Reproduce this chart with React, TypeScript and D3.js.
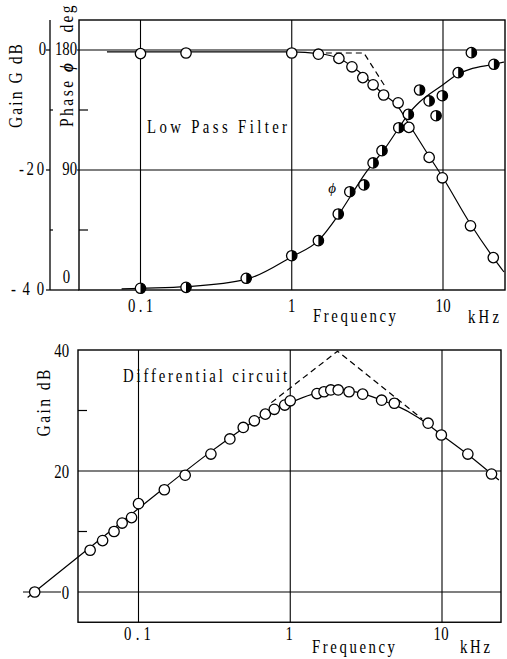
import React from 'react';
import * as d3 from 'd3';

// ---------- Top chart: Low Pass Filter ----------
const lpGainFreq = [0.1, 0.2, 1, 1.5, 2.05, 2.5, 2.95, 3.45, 4.05, 5.05, 5.95, 8.1, 9.9, 15.2, 21.5];
const lpGainDb = [-0.6, -0.5, -0.5, -0.7, -1.4, -2.8, -4.6, -5.8, -7.5, -8.8, -12.9, -17.9, -21.3, -29.3, -34.6];
const lpPhaseFreq = [0.1, 0.2, 0.5, 1, 1.5, 2.03, 2.42, 3.0, 3.45, 3.95, 5.1, 5.9, 7.0, 8.1, 9.0, 9.9, 12.6, 15.4, 21.7];
const lpPhaseDeg = [1.3, 2, 8.8, 25.7, 37, 57, 73.7, 78.8, 95.3, 104.5, 121.7, 131.7, 150, 141.8, 130.7, 145.7, 163, 178, 169.3];
const lpGainCurveFreq = [0.06, 1, 1.5, 2, 2.5, 3, 3.5, 4, 5, 6, 8, 10, 15, 21.5, 25.3];
const lpGainCurveDb = [-0.3, -0.3, -0.6, -1.3, -2.7, -4.3, -5.9, -7.3, -9.3, -12.5, -17.5, -21.3, -28.8, -34.6, -37];
const lpPhaseCurveFreq = [0.075, 0.1, 0.2, 0.5, 1, 1.5, 2, 2.5, 3, 3.5, 4, 5, 6, 7, 10, 12.6, 15, 21.7, 25.3];
const lpPhaseCurveDeg = [0.8, 1.3, 2.5, 8, 25, 37, 55, 72, 86, 96, 104, 120, 133, 141, 154, 162, 165.5, 169.3, 171];
const lpAsymFreq = [1.68, 3.0, 4.17];
const lpAsymDb = [-0.5, -0.5, -6.2];

const lpGainTicks = [0, -20, -40];
const lpGainTickLabels = ['0', '-20', '-40'];
const lpGainMinor = [-10, -30];
const lpPhaseTicks = [180, 90, 0];
const lpPhaseTickLabels = ['180', '90', '0'];

// ---------- Bottom chart: Differential circuit ----------
const diffFreq = [0.0207, 0.048, 0.058, 0.069, 0.078, 0.09, 0.1, 0.148, 0.203, 0.3, 0.4, 0.49, 0.58, 0.685, 0.785, 0.92, 1.0, 1.5, 1.67, 1.85, 2.07, 2.44, 3.0, 4.0, 4.85, 8.1, 9.9, 14.8, 21.2];
const diffDb = [0, 6.9, 8.5, 10, 11.4, 12.3, 14.6, 16.9, 19.3, 22.8, 25.3, 27.2, 28.3, 29.4, 30.2, 30.9, 31.6, 32.8, 33.1, 33.4, 33.4, 33.1, 32.7, 31.7, 31.2, 27.9, 25.95, 22.8, 19.5];
const diffCurveFreq = [0.0186, 0.1, 0.3, 0.5, 0.7, 1.0, 1.5, 2.0, 2.5, 3.0, 4.0, 5.0, 7.0, 10, 15, 23.7];
const diffCurveDb = [-0.9, 13.8, 23.2, 27.2, 29.6, 31.3, 32.9, 33.4, 33.2, 32.8, 31.7, 30.8, 28.8, 25.9, 22.6, 18.5];
const diffAsymFreq = [0.75, 2.05, 7.4];
const diffAsymDb = [31.3, 39.8, 28.6];

const diffGainTicks = [40, 20, 0];
const diffGainTickLabels = ['40', '20', '0'];
const diffGainMinor = [30, 10];

const freqTicks = [0.1, 1, 10];
const freqTickLabels = ['0.1', '1', '10'];

const FONT = '"Liberation Serif", "DejaVu Serif", "Times New Roman", serif';

type TProps = {
  x: number; y: number; text?: string; anchor?: string; size?: number; sx?: number;
  len?: number; rotate?: number; italic?: boolean; children?: React.ReactNode;
};
function T({ x, y, text, anchor = 'start', size = 18, sx = 0.82, len, rotate = 0, italic = false, children }: TProps) {
  return (
    <text
      transform={`translate(${x},${y}) rotate(${rotate}) scale(${sx},1)`}
      textAnchor={anchor}
      fontSize={size}
      fontFamily={FONT}
      fontStyle={italic ? 'italic' : 'normal'}
      fill="#000"
      {...(len ? { textLength: len / sx, lengthAdjust: 'spacing' } : {})}
    >
      {children ?? text}
    </text>
  );
}

function OpenMark({ cx, cy }: { cx: number; cy: number }) {
  return <circle cx={cx} cy={cy} r={5.2} fill="#fff" stroke="#000" strokeWidth={1.3} />;
}
function HalfMark({ cx, cy }: { cx: number; cy: number }) {
  const r = 5.2;
  return (
    <g transform={`translate(${cx},${cy})`}>
      <circle r={r} fill="#fff" stroke="#000" strokeWidth={1.3} />
      <path d={`M0,${-r} A${r},${r} 0 0,1 0,${r} Z`} fill="#000" />
    </g>
  );
}

const zip = (a: number[], b: number[]) => a.map((v, i) => [v, b[i]] as [number, number]);

export default function App() {
  const W = 507, H = 659;

  const xTop = d3.scaleLog().domain([0.1, 10]).range([140.5, 443]);
  const yGain = d3.scaleLinear().domain([0, -40]).range([50, 290]);
  const yPhase = d3.scaleLinear().domain([180, 0]).range([50, 290]);
  const topL = 79, topR = 505, topT = yGain(5), topB = yGain(-40);
  const gainAxisX = 50;

  const xBot = d3.scaleLog().domain([0.1, 10]).range([138.5, 442]);
  const yBot = d3.scaleLinear().domain([0, 40]).range([592, 350]);
  const botL = 78, botR = 501, botT = yBot(40), botB = yBot(-5);

  const gainLine = d3.line<[number, number]>().x(d => xTop(d[0])).y(d => yGain(d[1])).curve(d3.curveMonotoneX);
  const gainAsym = d3.line<[number, number]>().x(d => xTop(d[0])).y(d => yGain(d[1]));
  const phaseLine = d3.line<[number, number]>().x(d => xTop(d[0])).y(d => yPhase(d[1])).curve(d3.curveMonotoneX);
  const diffLine = d3.line<[number, number]>().x(d => xBot(d[0])).y(d => yBot(d[1])).curve(d3.curveMonotoneX);
  const diffAsym = d3.line<[number, number]>().x(d => xBot(d[0])).y(d => yBot(d[1]));

  const stroke = '#000';
  const gainLabelLen: Record<string, number> = { '-20': 25, '-40': 33 };

  return (
    <svg width={W} height={H} viewBox={`0 0 ${W} ${H}`} style={{ position: 'absolute', left: 0, top: 0, background: '#fff' }}>
      <rect x={0} y={0} width={W} height={H} fill="#fff" />

      {/* ================= TOP CHART ================= */}
      <g>
        {[0, -20].map(v => (
          <line key={'hg' + v} x1={topL} x2={topR} y1={yGain(v)} y2={yGain(v)} stroke={stroke} strokeWidth={1.1} />
        ))}
        {freqTicks.map(f => (
          <line key={'vg' + f} x1={xTop(f)} x2={xTop(f)} y1={topT} y2={topB} stroke={stroke} strokeWidth={1.1} />
        ))}
        <rect x={topL} y={topT} width={topR - topL} height={topB - topT} fill="none" stroke={stroke} strokeWidth={1.4} />
        <line x1={gainAxisX} x2={gainAxisX} y1={topT} y2={topB} stroke={stroke} strokeWidth={1.3} />
        <line x1={gainAxisX} x2={topL} y1={topB} y2={topB} stroke={stroke} strokeWidth={1.3} />
        {lpGainTicks.map(v => (
          <line key={'gt' + v} x1={gainAxisX - 4} x2={gainAxisX} y1={yGain(v)} y2={yGain(v)} stroke={stroke} strokeWidth={1.2} />
        ))}
        {lpGainMinor.map(v => (
          <g key={'gm' + v}>
            <line x1={gainAxisX} x2={gainAxisX + 3} y1={yGain(v)} y2={yGain(v)} stroke={stroke} strokeWidth={1.2} />
            <line x1={topL} x2={topL + 9} y1={yGain(v)} y2={yGain(v)} stroke={stroke} strokeWidth={1.2} />
          </g>
        ))}
        {lpGainTicks.map((v, i) => (
          <T key={'gl' + v} x={v === 0 ? 46 : 44} y={yGain(v) + 5} text={lpGainTickLabels[i]} anchor="end" len={gainLabelLen[lpGainTickLabels[i]]} />
        ))}
        {lpPhaseTicks.map((v, i) => (
          <T key={'pl' + v} x={v === 0 ? 70 : 77} y={v === 0 ? yPhase(v) - 7 : yPhase(v) + 5} text={lpPhaseTickLabels[i]} anchor="end" />
        ))}
        {lpPhaseTicks.filter(v => v !== 0).map(v => (
          <line key={'pt' + v} x1={topL - 2} x2={topL} y1={yPhase(v)} y2={yPhase(v)} stroke={stroke} strokeWidth={1.2} />
        ))}

        {/* axis titles */}
        <T x={22} y={86} anchor="middle" rotate={-90} size={19} len={84} text="Gain G dB" />
        <T x={73} y={95} anchor="middle" rotate={-90} size={19} len={64}>
          Phase <tspan fontStyle="italic" fontWeight="bold">ϕ</tspan>
        </T>
        <T x={73} y={19} anchor="middle" rotate={-90} size={19} len={27} text="deg" />

        {freqTicks.map((f, i) => (
          <T key={'xl' + f} x={xTop(f)} y={312} text={freqTickLabels[i]} anchor="middle" len={f === 0.1 ? 25 : f === 10 ? 15 : undefined} />
        ))}
        <T x={313} y={322} text="Frequency" len={83} />
        <T x={468} y={323} text="kHz" len={31} />

        <T x={147} y={133} text="Low Pass Filter" len={140} />

        <path d={gainAsym(zip(lpAsymFreq, lpAsymDb)) || ''} fill="none" stroke={stroke} strokeWidth={1.2} strokeDasharray="6,4" />
        <path d={gainLine(zip(lpGainCurveFreq, lpGainCurveDb)) || ''} fill="none" stroke={stroke} strokeWidth={1.2} />
        <path d={phaseLine(zip(lpPhaseCurveFreq, lpPhaseCurveDeg)) || ''} fill="none" stroke={stroke} strokeWidth={1.2} />

        {lpGainFreq.map((f, i) => (
          <OpenMark key={'gm' + i} cx={xTop(f)} cy={yGain(lpGainDb[i])} />
        ))}
        {lpPhaseFreq.map((f, i) => (
          <HalfMark key={'pm' + i} cx={xTop(f)} cy={yPhase(lpPhaseDeg[i])} />
        ))}
        <T x={332} y={193} text="ϕ" anchor="middle" size={15} sx={1} italic />
      </g>

      {/* ================= BOTTOM CHART ================= */}
      <g>
        {[20, 0].map(v => (
          <line key={'bhg' + v} x1={botL} x2={botR} y1={yBot(v)} y2={yBot(v)} stroke={stroke} strokeWidth={1.1} />
        ))}
        {freqTicks.map(f => (
          <line key={'bvg' + f} x1={xBot(f)} x2={xBot(f)} y1={botT} y2={botB} stroke={stroke} strokeWidth={1.1} />
        ))}
        <rect x={botL} y={botT} width={botR - botL} height={botB - botT} fill="none" stroke={stroke} strokeWidth={1.4} />
        {diffGainMinor.map(v => (
          <line key={'bm' + v} x1={botL} x2={botL + 9} y1={yBot(v)} y2={yBot(v)} stroke={stroke} strokeWidth={1.2} />
        ))}
        <line x1={23} x2={61} y1={yBot(0)} y2={yBot(0)} stroke={stroke} strokeWidth={1.2} />
        {diffGainTicks.map((v, i) => (
          <T key={'bl' + v} x={69} y={yBot(v) + 7} text={diffGainTickLabels[i]} anchor="end" />
        ))}
        <T x={50} y={403} text="Gain dB" anchor="middle" rotate={-90} size={19} len={67} />

        {freqTicks.map((f, i) => (
          <T key={'bxl' + f} x={xBot(f) - 1} y={640} text={freqTickLabels[i]} anchor="middle" len={f === 0.1 ? 27 : f === 10 ? 15 : undefined} />
        ))}
        <T x={312} y={653} text="Frequency" len={83} />
        <T x={460} y={653} text="kHz" len={30} />

        <T x={123} y={382} text="Differential circuit" len={164} />

        <path d={diffAsym(zip(diffAsymFreq, diffAsymDb)) || ''} fill="none" stroke={stroke} strokeWidth={1.2} strokeDasharray="6,4" />
        <path d={diffLine(zip(diffCurveFreq, diffCurveDb)) || ''} fill="none" stroke={stroke} strokeWidth={1.2} />
        {diffFreq.map((f, i) => (
          <OpenMark key={'dm' + i} cx={xBot(f)} cy={yBot(diffDb[i])} />
        ))}
      </g>
    </svg>
  );
}
